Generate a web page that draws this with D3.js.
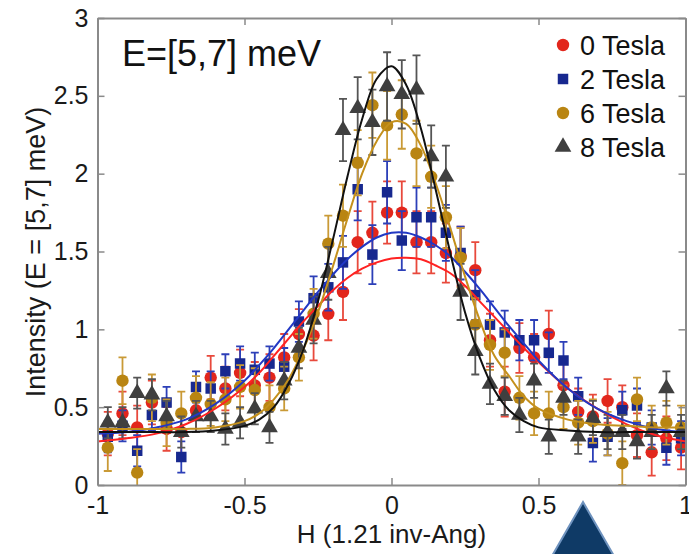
<!DOCTYPE html>
<html>
<head>
<meta charset="utf-8">
<script src="https://cdn.jsdelivr.net/npm/d3@7"></script>
<style>
  body { margin: 0; background: white; }
  svg { font-family: "Liberation Sans", Arial, sans-serif; }
</style>
</head>
<body>
<div class="wrapper"></div>
<script>
const w = 689
const h = 554

// measured H positions (same for all fields)
const hValues = [-0.965, -0.915, -0.865, -0.815, -0.765, -0.715, -0.665, -0.615, -0.565, -0.515,
  -0.465, -0.415, -0.365, -0.315, -0.265, -0.215, -0.165, -0.115, -0.065, -0.015,
  0.035, 0.085, 0.135, 0.185, 0.235, 0.285, 0.335, 0.385, 0.435, 0.485,
  0.535, 0.585, 0.635, 0.685, 0.735, 0.785, 0.835, 0.885, 0.935, 0.985]

const tesla0 = [0.33, 0.46, 0.37, 0.53, 0.36, 0.34, 0.48, 0.69, 0.62, 0.72,
  0.64, 0.69, 0.82, 0.97, 0.96, 1.10, 1.24, 1.56, 1.62, 1.75,
  1.75, 1.56, 1.56, 1.49, 1.47, 1.38, 0.93, 0.60, 0.88, 0.82,
  0.97, 0.64, 0.47, 0.44, 0.54, 0.50, 0.32, 0.21, 0.30, 0.24]
const tesla2 = [0.31, 0.38, 0.22, 0.45, 0.53, 0.18, 0.63, 0.62, 0.73, 0.78,
  0.74, 0.78, 0.76, 1.05, 1.20, 1.27, 1.43, 1.90, 1.48, 1.88,
  1.57, 1.72, 1.72, 1.62, 1.49, 1.22, 1.03, 0.98, 0.93, 0.93,
  0.85, 0.80, 0.57, 0.27, 0.31, 0.48, 0.51, 0.37, 0.24, 0.30]
const tesla6 = [0.24, 0.67, 0.08, 0.56, 0.40, 0.46, 0.56, 0.52, 0.55, 0.63,
  0.61, 0.50, 0.62, 0.82, 1.10, 1.55, 1.73, 2.07, 2.44, 2.31,
  2.38, 2.13, 1.98, 1.72, 1.46, 1.03, 0.90, 0.85, 0.56, 0.46,
  0.46, 0.50, 0.40, 0.41, 0.33, 0.14, 0.55, 0.37, 0.40, 0.37]
const tesla8 = [0.40, 0.40, 0.59, 0.58, 0.44, 0.34, 0.44, 0.44, 0.36, 0.40,
  0.49, 0.37, 0.67, 0.88, 1.06, 1.36, 2.28, 2.42, 2.33, 2.56,
  2.51, 2.54, 2.11, 1.98, 1.24, 0.86, 0.65, 0.57, 0.45, 0.67,
  0.31, 0.56, 0.31, 0.43, 0.34, 0.34, 0.28, 0.34, 0.62, 0.34]

const err0 = [0.14, 0.14, 0.14, 0.14, 0.14, 0.14, 0.14, 0.14, 0.14, 0.15,
  0.15, 0.15, 0.15, 0.16, 0.16, 0.17, 0.18, 0.20, 0.20, 0.20,
  0.20, 0.20, 0.20, 0.19, 0.19, 0.18, 0.17, 0.16, 0.16, 0.15,
  0.15, 0.15, 0.15, 0.14, 0.14, 0.14, 0.14, 0.15, 0.14, 0.14]
const err2 = [0.10, 0.10, 0.10, 0.10, 0.10, 0.10, 0.10, 0.11, 0.11, 0.11,
  0.11, 0.11, 0.12, 0.13, 0.14, 0.15, 0.17, 0.20, 0.19, 0.20,
  0.19, 0.19, 0.19, 0.18, 0.17, 0.16, 0.15, 0.14, 0.13, 0.13,
  0.13, 0.12, 0.12, 0.12, 0.12, 0.12, 0.11, 0.11, 0.11, 0.11]
const err6 = [0.15, 0.15, 0.15, 0.15, 0.15, 0.14, 0.14, 0.14, 0.14, 0.14,
  0.14, 0.14, 0.14, 0.15, 0.16, 0.18, 0.20, 0.21, 0.21, 0.22,
  0.22, 0.21, 0.20, 0.20, 0.19, 0.17, 0.16, 0.15, 0.14, 0.14,
  0.14, 0.14, 0.14, 0.14, 0.14, 0.14, 0.14, 0.14, 0.14, 0.14]
const err8 = [0.10, 0.10, 0.10, 0.10, 0.10, 0.10, 0.10, 0.10, 0.10, 0.10,
  0.10, 0.10, 0.12, 0.13, 0.15, 0.17, 0.20, 0.20, 0.21, 0.22,
  0.22, 0.22, 0.20, 0.20, 0.18, 0.15, 0.13, 0.12, 0.11, 0.11,
  0.11, 0.11, 0.11, 0.11, 0.11, 0.11, 0.11, 0.11, 0.11, 0.11]

// fitted curves
const fitH = [-1, -0.9, -0.8, -0.7, -0.6, -0.5, -0.45, -0.4, -0.35, -0.3, -0.25, -0.2, -0.15, -0.1, -0.05,
  0, 0.05, 0.1, 0.15, 0.2, 0.25, 0.3, 0.35, 0.4, 0.45, 0.5, 0.6, 0.7, 0.8, 0.9, 1]
const fit0 = [0.28, 0.30, 0.33, 0.39, 0.49, 0.63, 0.72, 0.83, 0.94, 1.05, 1.15, 1.25, 1.33, 1.39, 1.43,
  1.455, 1.46, 1.45, 1.41, 1.36, 1.28, 1.18, 1.08, 0.98, 0.88, 0.79, 0.62, 0.49, 0.39, 0.32, 0.28]
const fit2 = [0.33, 0.34, 0.37, 0.42, 0.52, 0.67, 0.77, 0.88, 1.00, 1.12, 1.24, 1.35, 1.45, 1.53, 1.59,
  1.62, 1.62, 1.59, 1.54, 1.47, 1.37, 1.26, 1.14, 1.02, 0.91, 0.80, 0.62, 0.49, 0.41, 0.36, 0.34]
const fit6 = [0.36, 0.36, 0.36, 0.36, 0.37, 0.41, 0.46, 0.55, 0.68, 0.87, 1.11, 1.40, 1.71, 2.00, 2.21,
  2.33, 2.32, 2.18, 1.94, 1.65, 1.34, 1.06, 0.83, 0.70, 0.57, 0.49, 0.42, 0.39, 0.38, 0.37, 0.37]
const fit8 = [0.34, 0.34, 0.34, 0.34, 0.35, 0.38, 0.42, 0.50, 0.65, 0.87, 1.18, 1.57, 1.98, 2.35, 2.61,
  2.69, 2.57, 2.29, 1.90, 1.49, 1.11, 0.82, 0.61, 0.48, 0.41, 0.37, 0.35, 0.34, 0.34, 0.34, 0.34]

const xTicks = [-1, -0.5, 0, 0.5, 1]
const yTicks = [0, 0.5, 1, 1.5, 2, 2.5, 3]

const series = [
  { name: "0 Tesla", values: tesla0, err: err0, fit: fit0, shape: "circle", color: "#e2261c", barColor: "#e8493c", lineColor: "#ff2222" },
  { name: "2 Tesla", values: tesla2, err: err2, fit: fit2, shape: "square", color: "#17288f", barColor: "#2c3fb8", lineColor: "#2238c4" },
  { name: "6 Tesla", values: tesla6, err: err6, fit: fit6, shape: "circle", color: "#b98512", barColor: "#c99a36", lineColor: "#c4901c" },
  { name: "8 Tesla", values: tesla8, err: err8, fit: fit8, shape: "triangle", color: "#3f3f3f", barColor: "#555555", lineColor: "#111111" }
]

const xScale = d3.scaleLinear().domain([-1, 1]).range([97.5, 685.5])
const yScale = d3.scaleLinear().domain([0, 3]).range([485, 18])

const svg = d3.select(".wrapper")
  .append("svg")
  .attr("width", w)
  .attr("height", h)

svg.append("defs").append("clipPath")
  .attr("id", "plot")
  .append("rect")
  .attr("x", xScale(-1))
  .attr("y", yScale(3))
  .attr("width", xScale(1) - xScale(-1))
  .attr("height", yScale(0) - yScale(3))

const symbolFor = (shape, size) => {
  if (shape === "square") return d3.symbol().type(d3.symbolSquare).size(size * 1.0)()
  if (shape === "triangle") return d3.symbol().type(d3.symbolTriangle).size(size * 1.1)()
  return d3.symbol().type(d3.symbolCircle).size(size * 1.1)()
}

const plot = svg.append("g").attr("clip-path", "url(#plot)")

// points with error bars
series.forEach((s) => {
  const g = plot.append("g")
  const pts = s.values.map((v, i) => ({ x: hValues[i], y: v, e: s.err[i] }))
  g.selectAll(".bar")
    .data(pts)
    .enter()
    .append("path")
    .attr("d", (d) => {
      const x = xScale(d.x)
      const y1 = yScale(d.y - d.e)
      const y2 = yScale(d.y + d.e)
      return `M${x},${y1}V${y2}M${x - 4},${y1}H${x + 4}M${x - 4},${y2}H${x + 4}`
    })
    .attr("stroke", s.barColor)
    .attr("stroke-width", 1.8)
    .attr("fill", "none")
  g.selectAll(".pt")
    .data(pts)
    .enter()
    .append("path")
    .attr("transform", (d) => "translate(" + xScale(d.x) + "," + yScale(d.y) + ")")
    .attr("d", symbolFor(s.shape, 110))
    .attr("fill", s.color)
})

// fit lines on top
const line = d3.line()
  .x((d) => xScale(d[0]))
  .y((d) => yScale(d[1]))
  .curve(d3.curveCatmullRom)

series.forEach((s) => {
  plot.append("path")
    .datum(fitH.map((x, i) => [x, s.fit[i]]))
    .attr("d", line)
    .attr("fill", "none")
    .attr("stroke", s.lineColor)
    .attr("stroke-width", 2)
})

// axes box, MATLAB style ticks pointing inward
const axisColor = "#8a8a8a"
const styleAxis = (g) => {
  g.select(".domain").attr("stroke", axisColor).attr("stroke-width", 2)
  g.selectAll(".tick line").attr("stroke", axisColor).attr("stroke-width", 1.5)
  g.selectAll(".tick text").attr("fill", "#1a1a1a").attr("font-size", 25)
}
const tickText = (d) => (d < 0 ? "-" + Math.abs(d) : String(d))

svg.append("g")
  .attr("transform", "translate(0, " + yScale(0) + ")")
  .call(d3.axisBottom(xScale).tickValues(xTicks).tickSizeInner(-7).tickSizeOuter(0).tickPadding(11).tickFormat(tickText))
  .call(styleAxis)

svg.append("g")
  .attr("transform", "translate(0, " + yScale(3) + ")")
  .call(d3.axisTop(xScale).tickValues(xTicks).tickSizeInner(-7).tickSizeOuter(0).tickFormat(""))
  .call(styleAxis)

svg.append("g")
  .attr("transform", "translate(" + xScale(-1) + ", 0)")
  .call(d3.axisLeft(yScale).tickValues(yTicks).tickSizeInner(-7).tickSizeOuter(0).tickPadding(9).tickFormat(tickText))
  .call(styleAxis)

svg.append("g")
  .attr("transform", "translate(" + xScale(1) + ", 0)")
  .call(d3.axisRight(yScale).tickValues(yTicks).tickSizeInner(-7).tickSizeOuter(0).tickFormat(""))
  .call(styleAxis)

// annotation
svg.append("text")
  .attr("x", 122)
  .attr("y", 66)
  .attr("font-size", 36)
  .attr("fill", "#111")
  .text("E=[5,7] meV")

// legend
const legend = svg.append("g")
series.forEach((s, i) => {
  const y = 45 + i * 34
  legend.append("path")
    .attr("transform", "translate(563," + y + ")")
    .attr("d", symbolFor(s.shape, 110))
    .attr("fill", s.color)
  legend.append("text")
    .attr("x", 580)
    .attr("y", y + 10)
    .attr("font-size", 27)
    .attr("fill", "#111")
    .text(s.name)
})

// axis titles
svg.append("text")
  .attr("x", xScale(0))
  .attr("y", 543)
  .attr("text-anchor", "middle")
  .attr("font-size", 26)
  .attr("fill", "#1a1a1a")
  .text("H (1.21 inv-Ang)")

svg.append("text")
  .attr("transform", "translate(45, 252) rotate(-90)")
  .attr("text-anchor", "middle")
  .attr("font-size", 27)
  .attr("fill", "#1a1a1a")
  .text("Intensity (E = [5,7] meV)")

// slide decoration at the bottom edge
svg.append("path")
  .attr("d", "M583,502L614,556L552,556Z")
  .attr("fill", "#0f3a66")
  .attr("stroke", "#6f93bf")
  .attr("stroke-width", 2)
</script>
</body>
</html>
